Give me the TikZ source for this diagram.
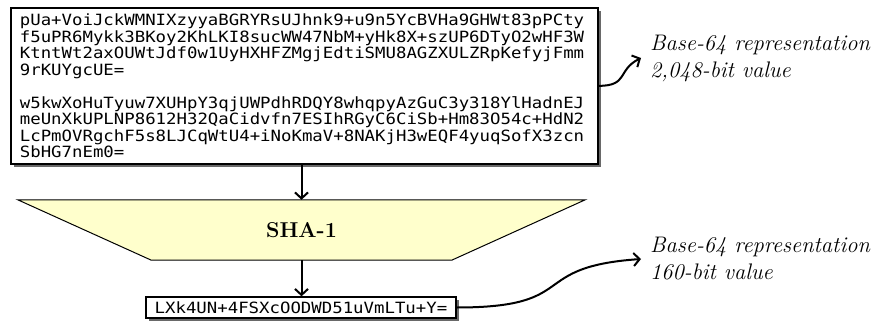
\documentclass[tikz,border=0pt]{standalone}
\usepackage{fontspec}
\newfontfamily\codefont[FakeStretch=1.12]{DejaVu Sans Mono}
\usetikzlibrary{arrows.meta,shadows,backgrounds}
\definecolor{hashfill}{RGB}{255,255,204}
\definecolor{shadowgray}{RGB}{105,105,105}
\begin{document}
\begin{tikzpicture}[x=1pt,y=-1pt,
  databox/.style={draw, line width=1.7pt, fill=white,
    drop shadow={shadow xshift=3pt, shadow yshift=-3pt, fill=shadowgray, opacity=1},
    font=\codefont\fontsize{15.5}{16.5}\selectfont, align=left},
  flow/.style={line width=2pt, -{Straight Barb[length=6pt,width=13pt,line width=2pt]}},
  note/.style={font=\itshape\fontsize{22.5}{27}\selectfont, align=left, anchor=west, inner sep=0pt},
]
\useasboundingbox (0,0) rectangle (873,324);

% key material, two Base-64 blocks
\node[databox, anchor=north west, minimum width=587pt, minimum height=156pt,
      text width=569pt, inner xsep=8pt] (key) at (10,7)
  {pUa+VoiJckWMNIXzyyaBGRYRsUJhnk9+u9n5YcBVHa9GHWt83pPCty\\
   f5uPR6Mykk3BKoy2KhLKI8sucWW47NbM+yHk8X+szUP6DTyO2wHF3W\\
   KtntWt2axOUWtJdf0w1UyHXHFZMgjEdtiSMU8AGZXULZRpKefyjFmm\\
   9rKUYgcUE=\\[16.5pt]
   w5kwXoHuTyuw7XUHpY3qjUWPdhRDQY8whqpyAzGuC3y318YlHadnEJ\\
   meUnXkUPLNP8612H32QaCidvfn7ESIhRGyC6CiSb+Hm83O54c+HdN2\\
   LcPmOVRgchF5s8LJCqWtU4+iNoKmaV+8NAKjH3wEQF4yuqSofX3zcn\\
   SbHG7nEm0=};

% hash function block
\node[minimum width=567pt, minimum height=60pt, inner sep=0pt,
      font=\bfseries\fontsize{21.5}{26}\selectfont] (hash) at (301.5,230) {SHA-1};
\begin{scope}[on background layer]
  \draw[fill=hashfill, line width=1pt]
    (hash.north west) -- (hash.north east)
    -- ([xshift=-133.5pt]hash.south east) -- ([xshift=133.5pt]hash.south west) -- cycle;
\end{scope}

% digest
\node[databox, minimum width=310pt, minimum height=21pt, inner sep=0pt, line width=1.4pt]
  (digest) at (301,307.5) {LXk4UN+4FSXcOODWD51uVmLTu+Y=};

% annotations
\node[note] (upnote) at (650,58) {Base-64 representation\\2,048-bit value};
\node[note] (lownote) at (650,259) {Base-64 representation\\160-bit value};

% flow
\draw[flow] (key.south -| hash.north) -- (hash.north);
\draw[flow] (hash.south) -- (hash.south |- digest.north);
\draw[flow] (key.east) .. controls +(30,0) and +(-24,12) .. ([xshift=-9pt]upnote.west);
\draw[flow] (digest.east) .. controls +(125,0) and +(-115,8) .. ([xshift=-9pt]lownote.west);
\end{tikzpicture}
\end{document}
